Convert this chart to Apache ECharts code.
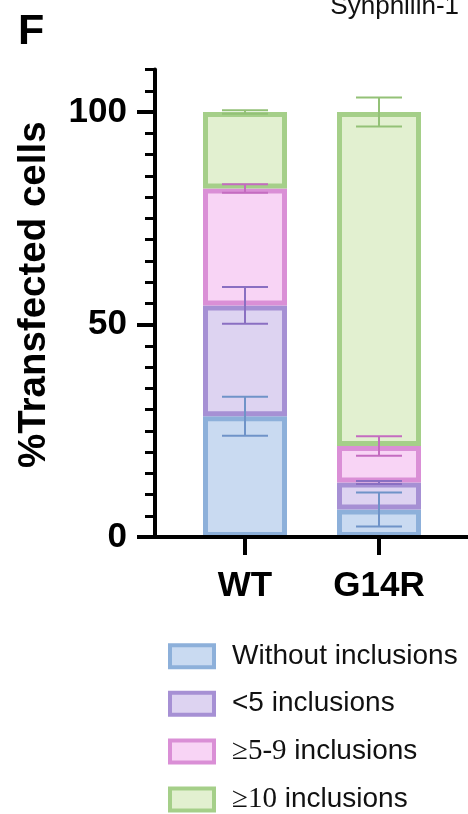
<!DOCTYPE html>
<html><head><meta charset="utf-8">
<script src="https://cdn.jsdelivr.net/npm/echarts@6/dist/echarts.min.js"></script>
<style>html,body{margin:0;padding:0;background:#fff}#c{width:468px;height:814px}</style>
</head><body><div id="c"></div><script>
const categories = ['WT', 'G14R'];
const seriesNames = ['Without inclusions', '<5 inclusions', '≥5-9 inclusions', '≥10 inclusions'];
const withoutInclusions = [28.4, 6.5];
const lessThan5 = [26.1, 6.3];
const from5to9 = [27.5, 8.6];
const tenOrMore = [18.0, 78.6];
const errWithout = [4.6, 4.0];
const errLess5 = [4.3, 0.35];
const err5to9 = [1.0, 2.3];
const errTenMore = [0.4, 3.4];
const yTickValues = [0, 50, 100];

const values = [withoutInclusions, lessThan5, from5to9, tenOrMore];
const errors = [errWithout, errLess5, err5to9, errTenMore];
const fills = ['#c9daf1', '#ddd3f1', '#f8d4f5', '#e2f0d0'];
const borders = ['#8db0da', '#a690d4', '#da8fd6', '#a5cf89'];
const errColors = ['#6f93c8', '#8a6fc2', '#c46cc0', '#93c177'];
const FONT = 'Liberation Sans, Arial, sans-serif';

const errData = [];
categories.forEach((c, ci) => {
  let cum = 0;
  values.forEach((arr, si) => {
    cum += arr[ci];
    errData.push([ci, cum, errors[si][ci], si]);
  });
});

const barSeries = values.map((arr, si) => ({
  type: 'bar', name: seriesNames[si], stack: 'total', data: arr,
  xAxisIndex: 0, yAxisIndex: 0, barWidth: 84,
  itemStyle: { color: fills[si], borderColor: borders[si], borderWidth: 5 }
}));

const chart = echarts.init(document.getElementById('c'), null, { renderer: 'canvas' });
chart.setOption({
  animation: false,
  backgroundColor: '#fff',
  title: [
    { text: 'F', left: 13, top: 6, textStyle: { fontSize: 43, fontWeight: 'bold', color: '#000', fontFamily: FONT } },
    { text: 'Synphilin-1', right: 4, top: -11, textStyle: { fontSize: 26, fontWeight: 'normal', color: '#111', fontFamily: FONT } }
  ],
  grid: [
    { left: 178, width: 268, top: 69.5, height: 467.5 },
    { left: 155, right: -10, top: 69.5, height: 467.5 }
  ],
  xAxis: [
    { type: 'category', gridIndex: 0, data: categories,
      axisLine: { show: false },
      axisTick: { show: true, alignWithLabel: true, length: 18, lineStyle: { width: 4, color: '#000' } },
      axisLabel: { fontSize: 35, fontWeight: 'bold', color: '#000', margin: 32, fontFamily: FONT },
      z: 10 },
    { type: 'value', gridIndex: 1, min: 0, max: 1,
      axisLine: { show: true, lineStyle: { width: 4, color: '#000' } },
      axisTick: { show: false }, axisLabel: { show: false }, splitLine: { show: false }, z: 10 }
  ],
  yAxis: [
    { type: 'value', gridIndex: 0, min: 0, max: 110, interval: 50, offset: 23,
      name: '%Transfected cells', nameLocation: 'middle', nameGap: 101, nameRotate: 90,
      nameTextStyle: { fontSize: 38.5, fontWeight: 'bold', color: '#000', fontFamily: FONT, padding: [0, 0, 0, 17] },
      axisLine: { show: true, lineStyle: { width: 4, color: '#000' } },
      axisTick: { show: true, length: 18, lineStyle: { width: 4, color: '#000' }, customValues: yTickValues },
      axisLabel: { fontSize: 35, fontWeight: 'bold', color: '#000', margin: 28, fontFamily: FONT, customValues: yTickValues,
        formatter: v => (yTickValues.indexOf(v) >= 0 ? String(v) : '') },
      splitLine: { show: false }, z: 10 },
    { type: 'value', gridIndex: 0, min: 0, max: 110, interval: 5, offset: 23, position: 'left',
      axisLine: { show: false },
      axisTick: { show: true, length: 10, lineStyle: { width: 3, color: '#000' } },
      axisLabel: { show: false }, splitLine: { show: false }, z: 10 },
    { type: 'value', gridIndex: 1, show: false }
  ],
  legend: {
    orient: 'vertical', left: 168, top: 642, height: 240, padding: 0,
    itemWidth: 44, itemHeight: 22, itemGap: 19,
    icon: 'rect', data: seriesNames,
    itemStyle: { borderWidth: 4 },
    textStyle: { fontSize: 28, color: '#111', fontFamily: FONT, lineHeight: 28.5, padding: [0, 0, 0, 13],
      rich: { s: { fontFamily: 'Liberation Serif, Times New Roman, serif', fontSize: 29, lineHeight: 28.5, color: '#111' } } },
    formatter: name => {
      if (name.charAt(0) === '≥') {
        const i = name.indexOf(' ');
        return '{s|' + name.slice(0, i) + '}' + name.slice(i);
      }
      return name;
    }
  },
  series: barSeries.concat([{
    type: 'custom', xAxisIndex: 0, yAxisIndex: 0, z: 5,
    encode: { x: 0, y: 1 },
    data: errData,
    renderItem: (params, api) => {
      const ci = api.value(0), c = api.value(1), e = api.value(2), si = api.value(3);
      const top = api.coord([ci, c + e]);
      const bot = api.coord([ci, c - e]);
      const x = top[0], hw = 23;
      const style = { stroke: errColors[si], lineWidth: 2 };
      return { type: 'group', children: [
        { type: 'line', shape: { x1: x, y1: top[1], x2: x, y2: bot[1] }, style },
        { type: 'line', shape: { x1: x - hw, y1: top[1], x2: x + hw, y2: top[1] }, style },
        { type: 'line', shape: { x1: x - hw, y1: bot[1], x2: x + hw, y2: bot[1] }, style }
      ] };
    }
  }])
});
</script></body></html>
